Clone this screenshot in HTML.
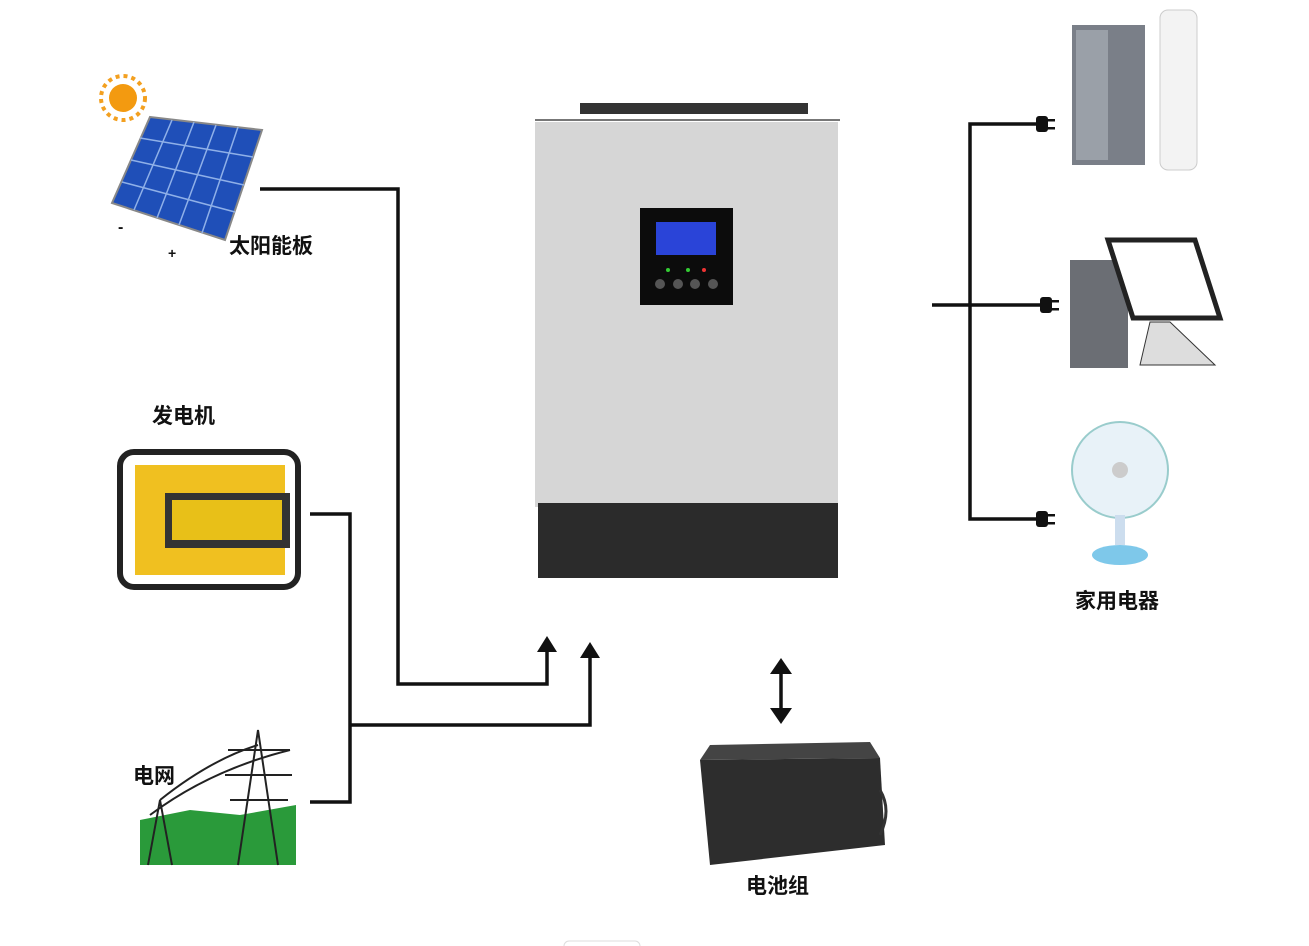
<!DOCTYPE html>
<html><head><meta charset="utf-8"><style>
body{margin:0;background:#fff;width:1309px;height:946px;overflow:hidden}
svg{display:block}
text{font-family:"Liberation Sans","Noto Sans CJK SC",sans-serif;font-size:21px;font-weight:bold;fill:#111}
</style></head><body>
<svg width="1309" height="946" viewBox="0 0 1309 946">
<g stroke="#111" stroke-width="3.5" fill="none">
<polyline points="260,189 398,189 398,684 547,684 547,650"/>
<polyline points="310,514 350,514 350,802 310,802"/>
<polyline points="350,725 590,725 590,655"/>
<line x1="781" y1="670" x2="781" y2="712"/>
<polyline points="1040,124 970,124 970,519 1040,519"/>
<line x1="932" y1="305" x2="1045" y2="305"/>
</g>
<g fill="#111">
<polygon points="547,636 537,652 557,652"/>
<polygon points="590,642 580,658 600,658"/>
<polygon points="781,658 770,674 792,674"/>
<polygon points="781,724 770,708 792,708"/>
<rect x="1036" y="116" width="12" height="16" rx="3"/><rect x="1046" y="119" width="9" height="2.5"/><rect x="1046" y="127" width="9" height="2.5"/>
<rect x="1040" y="297" width="12" height="16" rx="3"/><rect x="1050" y="300" width="9" height="2.5"/><rect x="1050" y="308" width="9" height="2.5"/>
<rect x="1036" y="511" width="12" height="16" rx="3"/><rect x="1046" y="514" width="9" height="2.5"/><rect x="1046" y="522" width="9" height="2.5"/>
</g>
<rect x="580" y="103" width="228" height="11" fill="#333"/>
<line x1="535" y1="120" x2="840" y2="120" stroke="#777" stroke-width="2"/>
<rect x="535" y="122" width="303" height="385" fill="#d6d6d6"/>
<rect x="538" y="503" width="300" height="75" fill="#2b2b2b"/>
<rect x="640" y="208" width="93" height="97" fill="#0c0c0c"/>
<rect x="656" y="222" width="60" height="33" fill="#2a44d8"/>
<g fill="#555"><circle cx="660" cy="284" r="5"/><circle cx="678" cy="284" r="5"/><circle cx="695" cy="284" r="5"/><circle cx="713" cy="284" r="5"/></g>
<circle cx="668" cy="270" r="2" fill="#3c3"/><circle cx="688" cy="270" r="2" fill="#3c3"/><circle cx="704" cy="270" r="2" fill="#e33"/>
<circle cx="123" cy="98" r="14" fill="#f39a10"/>
<circle cx="123" cy="98" r="22" fill="none" stroke="#f3a020" stroke-width="4" stroke-dasharray="4 4"/>
<polygon points="150,117 262,130 225,240 112,203" fill="#1f4fb8" stroke="#888" stroke-width="2"/>
<g stroke="#8fb0e8" stroke-width="1.5">
<line x1="131" y1="160" x2="244" y2="185"/><line x1="140" y1="138" x2="253" y2="157"/><line x1="122" y1="182" x2="235" y2="212"/>
<line x1="172" y1="120" x2="134" y2="210"/><line x1="194" y1="122" x2="157" y2="218"/><line x1="216" y1="125" x2="179" y2="225"/><line x1="238" y1="127" x2="202" y2="233"/>
</g>
<text x="118" y="232" style="font-size:16px">-</text><text x="168" y="258" style="font-size:14px">+</text>
<text x="229" y="253">太阳能板</text>
<text x="152" y="423">发电机</text>
<rect x="120" y="452" width="178" height="135" rx="14" fill="none" stroke="#222" stroke-width="6"/>
<rect x="135" y="465" width="150" height="110" fill="#f0c020"/>
<rect x="165" y="493" width="125" height="55" fill="#333"/>
<rect x="172" y="500" width="110" height="40" fill="#e8c018"/>
<text x="133" y="783">电网</text>
<polygon points="140,820 190,810 240,815 296,805 296,865 140,865" fill="#2a9a3a"/>
<g stroke="#222" stroke-width="2" fill="none">
<polyline points="238,865 258,730 278,865"/><line x1="228" y1="750" x2="290" y2="750"/><line x1="225" y1="775" x2="292" y2="775"/><line x1="230" y1="800" x2="288" y2="800"/>
<polyline points="148,865 160,800 172,865"/>
<path d="M160,800 Q210,760 258,745"/><path d="M150,815 Q210,770 290,750"/>
</g>
<rect x="1072" y="25" width="73" height="140" fill="#7a7f88"/>
<rect x="1076" y="30" width="32" height="130" fill="#9aa0a8"/>
<rect x="1160" y="10" width="37" height="160" rx="8" fill="#f3f3f3" stroke="#ccc"/>
<rect x="1070" y="260" width="58" height="108" fill="#6b6e74"/>
<polygon points="1108,240 1195,240 1220,318 1133,318" fill="#fff" stroke="#222" stroke-width="5"/>
<polygon points="1150,322 1170,322 1215,365 1140,365" fill="#ddd" stroke="#333"/>
<circle cx="1120" cy="470" r="48" fill="#e8f2f8" stroke="#9cc" stroke-width="2"/>
<circle cx="1120" cy="470" r="8" fill="#ccc"/>
<rect x="1115" y="515" width="10" height="30" fill="#cde"/>
<ellipse cx="1120" cy="555" rx="28" ry="10" fill="#7ec8ea"/>
<text x="1075" y="608">家用电器</text>
<polygon points="700,760 880,758 885,845 710,865" fill="#2d2d2d"/>
<polygon points="700,760 710,745 870,742 880,758" fill="#444"/>
<path d="M880,790 Q892,810 880,835" stroke="#333" stroke-width="3" fill="none"/>
<text x="746" y="893">电池组</text>
<rect x="564" y="941" width="76" height="10" rx="5" fill="none" stroke="#ddd"/>
</svg>
</body></html>
